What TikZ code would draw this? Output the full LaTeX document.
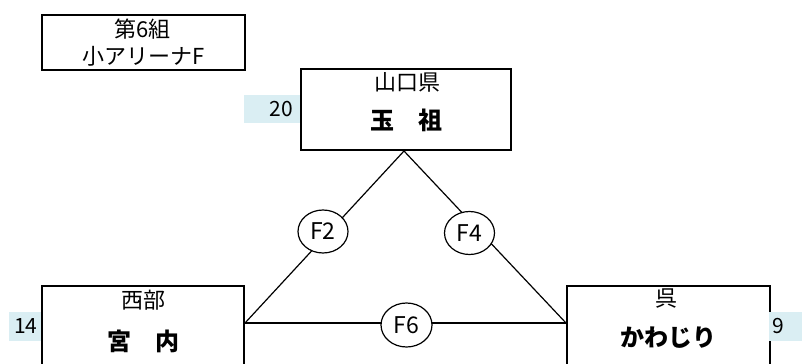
\documentclass[tikz,border=0pt]{standalone}
\usepackage{fontspec}
\setmainfont{Noto Sans CJK JP}
\usetikzlibrary{shapes.geometric}
\definecolor{lblue}{RGB}{218,238,243}
\begin{document}
\begin{tikzpicture}[x=1pt,y=-1pt,
 box/.style={draw,line width=2pt,inner sep=0pt,anchor=north west},
 reg/.style={font=\fontsize{22}{26}\selectfont,inner sep=0pt},
 big/.style={font=\bfseries\fontsize{24}{28}\selectfont,inner sep=0pt},
 num/.style={fill=lblue,inner sep=0pt,font=\fontsize{21}{24}\selectfont},
 match/.style={ellipse,draw,fill=white,line width=1.2pt,minimum width=50pt,minimum height=43pt,inner sep=0pt,font=\fontsize{23}{26}\selectfont},
 conn/.style={line width=1.2pt}]
\useasboundingbox (0,0) rectangle (803,364);

% title
\node[box,minimum width=203pt,minimum height=55pt] (title) at (41,14) {};
\node[reg] (t1) at (142.5,29) {第6組};
\node[reg] (t2) at (143.5,56) {小アリーナF};

% top team
\node[box,minimum width=210pt,minimum height=81pt] (top) at (300,68) {};
\node[reg] (yama) at (407,82) {山口県};
\node[big] (tama) at (406,120) {玉　祖};
\node[num,minimum width=56pt,minimum height=28pt,text width=42pt,align=right] (n20) at (272,109) {20};

% bottom left team
\node[box,minimum width=202pt,minimum height=100pt] (bl) at (41,285) {};
\node[reg] (seibu) at (143.5,300) {西部};
\node[big] (miya) at (143.5,341) {宮　内};
\node[num,minimum width=32pt,minimum height=29pt,text width=25pt,align=right] (n14) at (25,326.5) {14};

% bottom right team
\node[box,minimum width=203pt,minimum height=100pt] (br) at (566,285) {};
\node[reg] (kure) at (666,299) {呉};
\node[big] (kawa) at (668,338) {かわじり};
\node[num,minimum width=33pt,minimum height=29pt,text width=27pt,align=left] (n9) at (785.5,326.5) {9};

% connectors
\coordinate (apex) at ([xshift=-2pt]top.south);
\coordinate (blc) at ([yshift=-38pt]bl.north east);
\coordinate (brc) at ([yshift=-38pt]br.north west);
\draw[conn] (apex) -- (blc);
\draw[conn] (apex) -- (brc);
\draw[conn] (blc) -- (brc);

% matches
\node[match] (f2) at (323,231.5) {F2};
\node[match] (f4) at (469.5,233) {F4};
\node[match,minimum width=51pt,minimum height=44pt] (f6) at (406.5,325) {F6};
\end{tikzpicture}
\end{document}
